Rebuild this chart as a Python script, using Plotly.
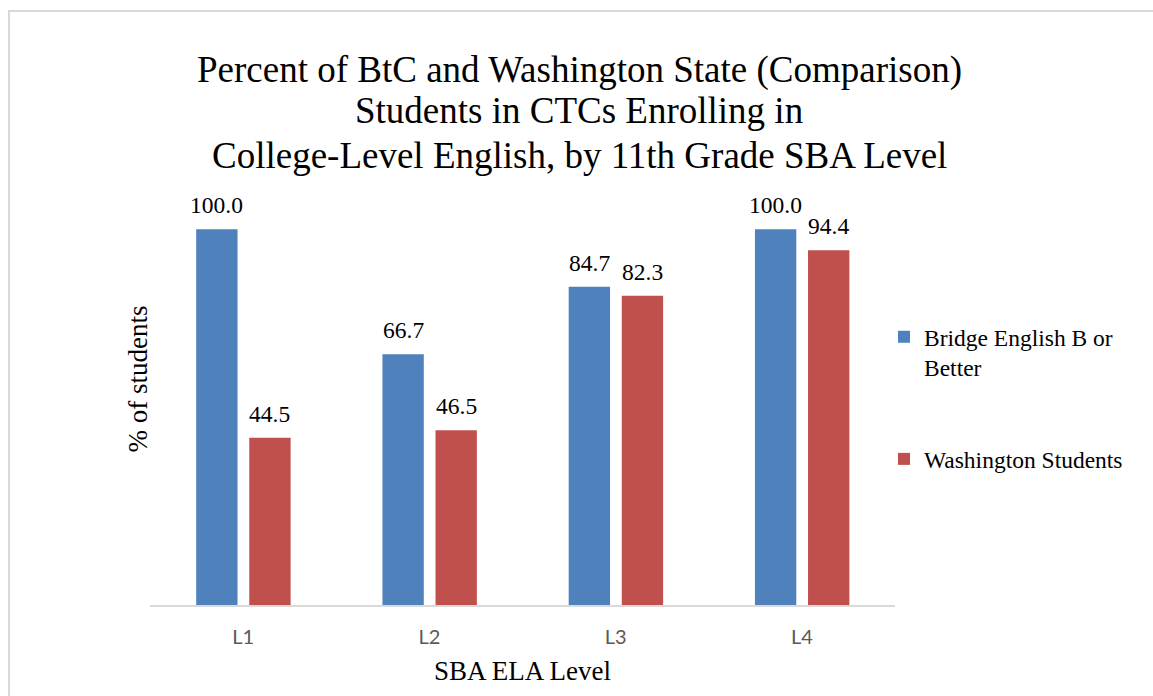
import plotly.graph_objects as go

categories = ["L1", "L2", "L3", "L4"]
bridge_values = [100.0, 66.7, 84.7, 100.0]
washington_values = [44.5, 46.5, 82.3, 94.4]
series_names = ["Bridge English B or<br>Better", "Washington Students"]
title_lines = [
    "Percent of BtC and Washington State (Comparison)",
    "Students in CTCs Enrolling in",
    "College-Level English, by 11th Grade SBA Level",
]
x_title = "SBA ELA Level"
y_title = "% of students"

BLUE = "#4F81BD"
RED = "#C0504D"
SERIF = "Liberation Serif, Times New Roman, serif"

W, H = 1153, 696
L, R, T, B = 150, 258, 154, 91
plot_h = H - T - B

bar_w = 0.222
offs = [-0.252, 0.033]

fig = go.Figure()
for name, vals, color, off, grp in [
    (series_names[0], bridge_values, BLUE, offs[0], "g1"),
    (series_names[1], washington_values, RED, offs[1], "g2"),
]:
    fig.add_trace(go.Bar(
        x=categories, y=vals, name=name, marker=dict(color=color, line=dict(width=0)),
        width=bar_w, offset=off, legendgroup=grp,
    ))

annotations = []
# value labels
for vals, off in [(bridge_values, offs[0]), (washington_values, offs[1])]:
    for i, v in enumerate(vals):
        annotations.append(dict(
            x=i + off + bar_w / 2, y=v, xref="x", yref="y", text=f"{v:.1f}",
            showarrow=False, yanchor="bottom", yshift=9,
            font=dict(family=SERIF, size=23.5, color="#000000"),
        ))

# title lines (centers in px from top)
title_centers = [70, 111, 155]
for txt, cy in zip(title_lines, title_centers):
    annotations.append(dict(
        x=(579 - L) / (W - L - R), y=(H - B - cy) / plot_h, xref="paper", yref="paper",
        text=txt, showarrow=False, xanchor="center", yanchor="middle",
        font=dict(family=SERIF, size=37, color="#000000"),
    ))

# y axis title
annotations.append(dict(
    x=(137 - L) / (W - L - R), y=0.5, xref="paper", yref="paper", text=y_title,
    textangle=-90, showarrow=False, xanchor="center", yanchor="middle",
    font=dict(family=SERIF, size=27, color="#000000"),
))

fig.update_layout(
    width=W, height=H,
    margin=dict(l=L, r=R, t=T, b=B, autoexpand=False),
    paper_bgcolor="white", plot_bgcolor="white",
    barmode="overlay",
    showlegend=True,
    legend=dict(
        x=(884 - L) / (W - L - R), xanchor="left",
        y=(H - B - 315) / plot_h, yanchor="top",
        font=dict(family=SERIF, size=23.5, color="#000000"),
        valign="top", tracegroupgap=58, bgcolor="rgba(0,0,0,0)",
        traceorder="grouped",
    ),
    xaxis=dict(
        type="category", categoryorder="array", categoryarray=categories,
        range=[-0.5, 3.5], showline=True, linecolor="#D9D9D9", linewidth=2,
        showgrid=False, zeroline=False, ticks="", ticklabelstandoff=13,
        tickfont=dict(family="Lato, Carlito, Calibri, sans-serif", size=20, color="#595959"),
        title=dict(text=x_title, font=dict(family=SERIF, size=27, color="#000000"), standoff=14),
        automargin=False,
    ),
    yaxis=dict(
        range=[0, 120], showline=False, showgrid=False, zeroline=False,
        showticklabels=False, ticks="", automargin=False,
    ),
    annotations=annotations,
    shapes=[dict(
        type="rect", xref="paper", yref="paper",
        x0=(9 - L) / (W - L - R), x1=(1170 - L) / (W - L - R),
        y0=(H - B - 720) / plot_h, y1=(H - B - 11) / plot_h,
        line=dict(color="#D9D9D9", width=2), fillcolor="rgba(0,0,0,0)", layer="below",
    )],
)

fig.write_html("out.html", config={"displayModeBar": False},
               post_script="document.body.style.margin='0';")
